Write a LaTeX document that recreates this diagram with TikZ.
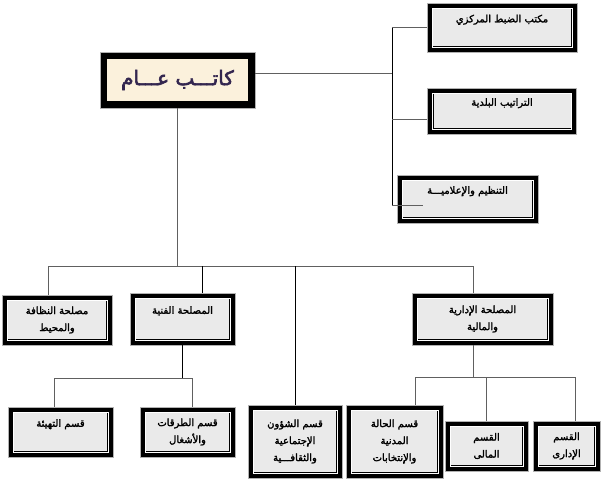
\documentclass[tikz,border=0pt]{standalone}
\usepackage{fontspec}
\newfontfamily\arabicfont[Script=Arabic, FakeBold=2]{DejaVu Sans}
\newfontfamily\arabicheavy[Script=Arabic, FakeBold=3]{DejaVu Sans}
\TeXXeTstate=1
\definecolor{boxgray}{HTML}{EAEAEA}
\definecolor{beige}{HTML}{FBF1DC}
\definecolor{inkblue}{HTML}{33264F}
\newcommand{\ar}[1]{\beginR #1\endR}
\tikzset{
    link/.style = {draw=gray!75!black, line width=0.8pt},
    linkb/.style = {draw=black, line width=0.7pt},
    frame/.style = {path picture = {
        \draw[black, line width=#1]
            ([shift={({0.4pt+0.5*#1},{0.4pt+0.5*#1})}]path picture bounding box.south west) rectangle
            ([shift={({-0.4pt-0.5*#1},{-0.4pt-0.5*#1})}]path picture bounding box.north east);
        \draw[white, line width=0.6pt]
            ([shift={({#1-0.8pt},{#1-0.8pt})}]path picture bounding box.south west) rectangle
            ([shift={({0.8pt-#1},{0.8pt-#1})}]path picture bounding box.north east);
    }},
    heavyframe/.style = {path picture = {
        \draw[black, line width=#1]
            ([shift={({0.4pt+0.5*#1},{0.4pt+0.5*#1})}]path picture bounding box.south west) rectangle
            ([shift={({-0.4pt-0.5*#1},{-0.4pt-0.5*#1})}]path picture bounding box.north east);
    }},
    box/.style = {draw=gray!60, line width=0.8pt, fill=boxgray, inner sep=0pt,
        align=center, frame=5.6pt,
        font=\arabicfont\fontsize{10}{17}\selectfont},
    raised/.style = {text depth=18pt}
}
\begin{document}
\begin{tikzpicture}[x=1pt, y=-1pt]
    \useasboundingbox (0,0) rectangle (602,479);

    \node[draw=gray!60, line width=0.8pt, fill=beige, heavyframe=6.5pt, inner sep=0pt,
        minimum width=155pt, minimum height=56pt, text=inkblue,
        font=\arabicheavy\fontsize{20}{22}\selectfont] (katib) at (177.5,80) {\ar{كاتـــب عـــام}};

    \node[box, raised, minimum width=150pt, minimum height=49pt] (dabt) at (502,27.5) {\ar{مكتب الضبط المركزي}};
    \node[box, raised, minimum width=149pt, minimum height=46pt] (taratib) at (502,111) {\ar{التراتيب البلدية}};
    \node[box, raised, minimum width=141pt, minimum height=48pt] (tanzim) at (467.5,199) {\ar{التنظيم والإعلاميـــة}};

    \node[box, minimum width=110pt, minimum height=50pt] (nadhafa) at (57,320) {\ar{مصلحة النظافة}\\\ar{والمحيط}};
    \node[box, raised, minimum width=105pt, minimum height=52pt] (fanniya) at (182.5,319) {\ar{المصلحة الفنية}};
    \node[box, minimum width=141pt, minimum height=52pt] (idariya) at (482.5,319) {\ar{المصلحة الإدارية}\\\ar{والمالية}};

    \node[box, raised, minimum width=105pt, minimum height=50pt] (tahyia) at (60.5,432) {\ar{قسم التهيئة}};
    \node[box, minimum width=95pt, minimum height=50pt] (turuqat) at (187.5,432) {\ar{قسم الطرقات}\\\ar{والأشغال}};
    \node[box, minimum width=94pt, minimum height=73pt] (shuun) at (295,441.5) {\ar{قسم الشؤون}\\\ar{الإجتماعية}\\\ar{والثقافـــية}};
    \node[box, minimum width=97pt, minimum height=73pt] (hala) at (394.5,441.5) {\ar{قسم الحالة}\\\ar{المدنية}\\\ar{والإنتخابات}};
    \node[box, minimum width=83pt, minimum height=50pt] (mali) at (486.5,446) {\ar{القسم}\\\ar{المالى}};
    \node[box, minimum width=67pt, minimum height=50pt] (idari) at (566.5,446) {\ar{القسم}\\\ar{الإدارى}};

    \coordinate (rtop) at (392,27.5);
    \coordinate (rbot) at (392,205);
    \coordinate (b1) at (48,266);
    \coordinate (b2) at (473,266);
    \coordinate (f1) at (54,378);
    \coordinate (f2) at (192,378);
    \coordinate (m1) at (415,377);
    \coordinate (m2) at (575,377);

    \draw[link] ([yshift=7pt]katib.east) -- ([yshift=7pt]katib.east -| rtop);
    \draw[linkb] (rtop) -- (rbot);
    \draw[link] (rtop) -- (dabt.west);
    \draw[link] ([yshift=-8pt]taratib.west) -- ([yshift=-8pt]taratib.west -| rtop);
    \draw[link] (rbot) -- ([xshift=26pt]tanzim.west |- rbot);

    \draw[link] (katib.south) -- (katib.south |- b1);
    \draw[link] (b1) -- (b2);
    \draw[link] (b1) -- (b1 |- nadhafa.north);
    \draw[linkb] ([xshift=20pt]fanniya.north |- b1) -- ([xshift=20pt]fanniya.north);
    \draw[linkb] (shuun.north |- b1) -- (shuun.north);
    \draw[link] (b2) -- (b2 |- idariya.north);

    \draw[linkb] (fanniya.south) -- (fanniya.south |- f1);
    \draw[link] (f1) -- (f2);
    \draw[link] (f1) -- (f1 |- tahyia.north);
    \draw[link] (f2) -- (f2 |- turuqat.north);

    \draw[link] (b2 |- idariya.south) -- (b2 |- m1);
    \draw[link] (m1) -- (m2);
    \draw[link] (m1) -- (m1 |- hala.north);
    \draw[link] (mali.north |- m1) -- (mali.north);
    \draw[link] (m2) -- (m2 |- idari.north);
\end{tikzpicture}
\end{document}
